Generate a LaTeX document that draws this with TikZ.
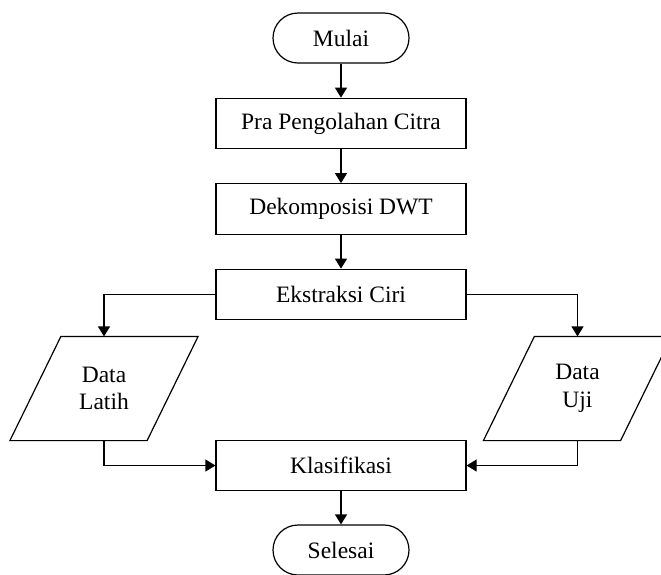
\documentclass[tikz,border=0pt]{standalone}
\usepackage{fontspec}
\setmainfont{Liberation Serif}
\usetikzlibrary{arrows.meta,calc}
\begin{document}
\begin{tikzpicture}[x=1pt,y=-1pt,
  base/.style={font=\fontsize{23.5}{27.5}\selectfont, inner sep=0pt, line width=1.2pt},
  term/.style={base, draw, rounded corners=25pt, minimum width=136pt, minimum height=50pt},
  procbox/.style={base, draw, minimum width=250pt, minimum height=50.5pt},
  iobox/.style={base, minimum width=136pt, minimum height=103pt, align=center},
  arr/.style={line width=1.2pt, -{Triangle[width=12pt,length=10pt]}},
  para/.style={line width=1.2pt}]
\useasboundingbox (0,0) rectangle (661,574);
\clip (0,0) rectangle (661,574);
\node[term] (mulai) at (341,38) {Mulai};
\node[procbox] (pra) at (341,123.5) {Pra Pengolahan Citra};
\node[procbox] (dwt) at (341,209) {Dekomposisi DWT};
\node[procbox] (eks) at (341,294.5) {Ekstraksi Ciri};
\node[iobox] (latih) at (104,388.5) {Data\\Latih};
\node[iobox] (uji) at (577.5,388.5) {Data\\Uji};
\node[procbox] (klas) at (341,465.5) {Klasifikasi};
\node[term] (selesai) at (341,550) {Selesai};
\draw[para] ([xshift=25.5pt]latih.north west) -- ([xshift=25.5pt]latih.north east) -- ([xshift=-25.5pt]latih.south east) -- ([xshift=-25.5pt]latih.south west) -- cycle;
\draw[para] ([xshift=25.5pt]uji.north west) -- ([xshift=25.5pt]uji.north east) -- ([xshift=-25.5pt]uji.south east) -- ([xshift=-25.5pt]uji.south west) -- cycle;
\draw[arr] (mulai) -- (pra);
\draw[arr] (pra) -- (dwt);
\draw[arr] (dwt) -- (eks);
\draw[arr] (eks.west) -| (latih.north);
\draw[arr] (eks.east) -| (uji.north);
\draw[arr] (latih.south) |- (klas.west);
\draw[arr] (uji.south) |- (klas.east);
\draw[arr] (klas) -- (selesai);
\end{tikzpicture}
\end{document}
